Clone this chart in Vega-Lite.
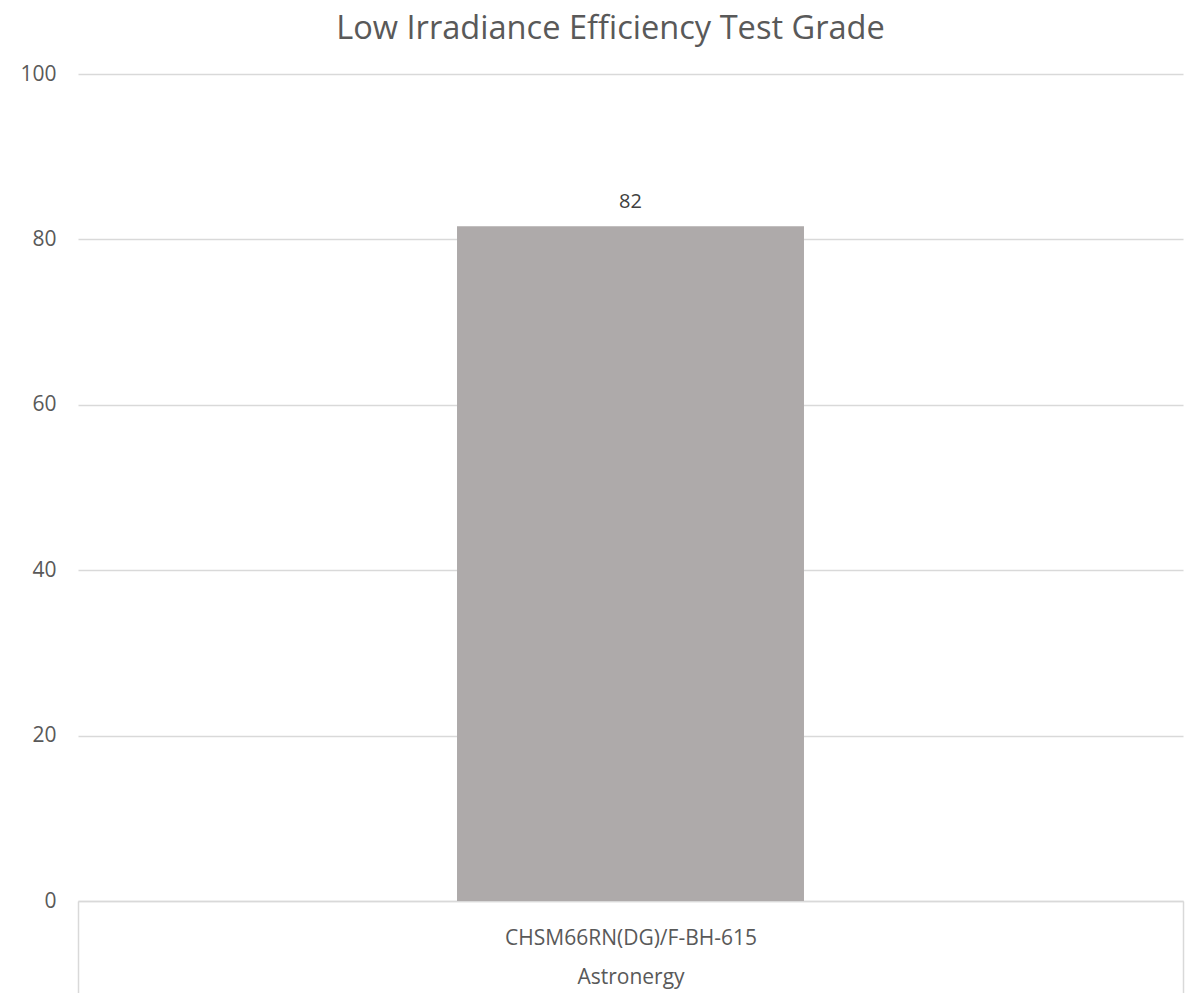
{
  "$schema": "https://vega.github.io/schema/vega-lite/v6.json",
  "autosize": "none",
  "width": 1105,
  "height": 827,
  "padding": {"left": 78, "top": 74, "right": 15, "bottom": 92},
  "background": "white",
  "config": {"view": {"stroke": null}, "font": "Open Sans"},
  "title": {
    "text": "Low Irradiance Efficiency Test Grade",
    "fontSize": 32.6,
    "fontWeight": "normal",
    "color": "#595959",
    "font": "Open Sans",
    "anchor": "middle",
    "baseline": "alphabetic",
    "offset": -9,
    "dx": -20
  },
  "data": {"values": [{"model": "CHSM66RN(DG)/F-BH-615", "maker": "Astronergy", "grade": 81.6}]},
  "encoding": {
    "x": {
      "field": "model",
      "type": "nominal",
      "title": null,
      "scale": {"paddingInner": 0, "paddingOuter": 0},
      "axis": {
        "labelExpr": "datum.value == 'CHSM66RN(DG)/F-BH-615' ? [datum.value, 'Astronergy'] : ''",
        "labelAngle": 0,
        "labelLimit": 0,
        "labelFontSize": 21,
        "labelColor": "#595959",
        "labelFont": "Open Sans",
        "labelLineHeight": 39,
        "labelBaseline": "middle",
        "labelPadding": -55,
        "domainColor": "#d9d9d9",
        "domainWidth": 1.5,
        "tickBand": "extent",
        "tickColor": "#d9d9d9",
        "tickWidth": 1.5,
        "tickSize": 92
      }
    },
    "y": {
      "field": "grade",
      "type": "quantitative",
      "title": null,
      "scale": {"domain": [0, 100], "nice": false},
      "axis": {
        "values": [0, 20, 40, 60, 80, 100],
        "labelFontSize": 21,
        "labelColor": "#595959",
        "labelFont": "Open Sans",
        "labelPadding": 22,
        "ticks": false,
        "domain": false,
        "gridColor": "#d9d9d9",
        "gridWidth": 1.5
      }
    }
  },
  "layer": [
    {"mark": {"type": "bar", "color": "#aeaaaa", "width": {"band": 0.314}}},
    {
      "mark": {"type": "text", "baseline": "bottom", "dy": -14, "fontSize": 20, "color": "#404040", "font": "Open Sans"},
      "encoding": {"text": {"field": "grade", "type": "quantitative", "format": ".0f"}}
    }
  ]
}
